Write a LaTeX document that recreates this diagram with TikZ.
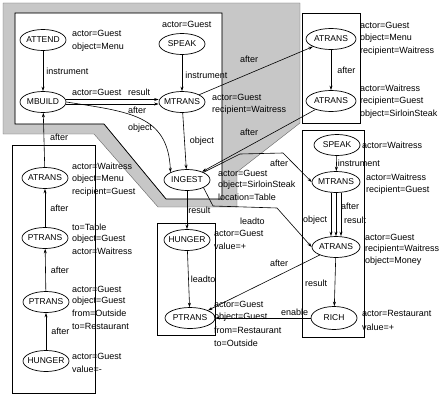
\documentclass[tikz,border=0pt]{standalone}
\usepackage{fontspec}
\setmainfont{Liberation Sans}
\usetikzlibrary{shapes.geometric,arrows.meta}
\begin{document}
\begin{tikzpicture}[x=1pt,y=-1pt,
  ev/.style={ellipse,draw,line width=0.7pt,fill=white,minimum width=46pt,minimum height=21pt,inner sep=0pt,font=\fontsize{8.5}{10}\selectfont},
  lab/.style={anchor=west,inner sep=0pt,font=\fontsize{9}{10}\selectfont},
  arr/.style={-{Stealth[length=4.5pt,width=3pt]},line width=0.6pt},
  box/.style={draw,line width=0.7pt},
  shade/.style={fill=black!22,even odd rule,draw=black!60,line width=0.4pt},
  frame/.style={draw,line width=0.7pt}]
\useasboundingbox (0,0) rectangle (446,396);
% shaded frame
\path[shade] (3,3) -- (300,3) -- (300,123) -- (237,172) -- (237,207) -- (158,207) -- (94,134) -- (3,134) -- cycle
  (15,13) -- (222,13) -- (222,199) -- (166,199) -- (104,124) -- (15,124) -- cycle;
\draw[frame] (15,13) -- (222,13) -- (222,199) -- (166,199) -- (104,124) -- (15,124) -- cycle;
% boxes
\draw[box] (302,13) rectangle (360,123);
\draw[box] (302,130) rectangle (364,337);
\draw[box] (157,223) rectangle (215,335);
\draw[box] (12,145) rectangle (95,393);
% events
\node[ev] (attend) at (43,40) {\makebox[0pt]{ATTEND}};
\node[ev] (mbuild) at (43,102) {\makebox[0pt]{MBUILD}};
\node[ev] (speak1) at (182,44) {\makebox[0pt]{SPEAK}};
\node[ev] (mtrans1) at (182,102) {\makebox[0pt]{MTRANS}};
\node[ev,minimum width=50pt] (atrans1) at (331,39) {\makebox[0pt]{ATRANS}};
\node[ev,minimum width=50pt] (atrans2) at (331,101) {\makebox[0pt]{ATRANS}};
\node[ev] (ingest) at (187,180) {\makebox[0pt]{INGEST}};
\node[ev] (atrans3) at (45,178) {\makebox[0pt]{ATRANS}};
\node[ev] (ptrans1) at (45,238) {\makebox[0pt]{PTRANS}};
\node[ev] (ptrans2) at (46,302) {\makebox[0pt]{PTRANS}};
\node[ev] (hunger1) at (46,361) {\makebox[0pt]{HUNGER}};
\node[ev] (hunger2) at (187,240) {\makebox[0pt]{HUNGER}};
\node[ev,minimum width=50pt] (ptrans3) at (190,318) {\makebox[0pt]{PTRANS}};
\node[ev] (speak2) at (337,145) {\makebox[0pt]{SPEAK}};
\node[ev,minimum width=48pt] (mtrans2) at (336,182) {\makebox[0pt]{MTRANS}};
\node[ev,minimum width=48pt] (atrans4) at (336,247) {\makebox[0pt]{ATRANS}};
\node[ev,minimum height=23pt] (rich) at (334,318) {\makebox[0pt]{RICH}};
% attribute labels
\node[lab] (a1) at (72,33) {actor=Guest};
\node[lab] (a2) at (72,47) {object=Menu};
\node[lab] (a3) at (72,92) {actor=Guest};
\node[lab] (a4) at (162,24) {actor=Guest};
\node[lab] (a5) at (212,97) {actor=Guest};
\node[lab] (a6) at (212,110) {recipient=Waitress};
\node[lab] (a7) at (360,25) {actor=Guest};
\node[lab] (a8) at (360,38) {object=Menu};
\node[lab] (a9) at (360,51) {recipient=Waitress};
\node[lab] (a10) at (360,88) {actor=Waitress};
\node[lab] (a11) at (360,101) {recipient=Guest};
\node[lab] (a12) at (360,114) {object=SirloinSteak};
\node[lab] (a13) at (72,166) {actor=Waitress};
\node[lab] (a14) at (72,179) {object=Menu};
\node[lab] (a15) at (72,192) {recipient=Guest};
\node[lab] (a16) at (72,227) {to=Table};
\node[lab] (a17) at (72,239) {object=Guest};
\node[lab] (a18) at (72,251) {actor=Waitress};
\node[lab] (a19) at (72,289) {actor=Guest};
\node[lab] (a20) at (72,301) {object=Guest};
\node[lab] (a21) at (72,313) {from=Outside};
\node[lab] (a22) at (72,326) {to=Restaurant};
\node[lab] (a23) at (72,356) {actor=Guest};
\node[lab] (a24) at (72,369) {value=-};
\node[lab] (a25) at (218,173) {actor=Guest};
\node[lab] (a26) at (218,185) {object=SirloinSteak};
\node[lab] (a27) at (218,197) {location=Table};
\node[lab] (a28) at (214,233) {actor=Guest};
\node[lab] (a29) at (214,246) {value=+};
\node[lab] (a30) at (214,304) {actor=Guest};
\node[lab] (a31) at (214,317) {object=Guest};
\node[lab] (a32) at (214,330) {from=Restaurant};
\node[lab] (a33) at (214,343) {to=Outside};
\node[lab] (a34) at (362,145) {actor=Waitress};
\node[lab] (a35) at (366,177) {actor=Waitress};
\node[lab] (a36) at (366,190) {recipient=Guest};
\node[lab] (a37) at (365,237) {actor=Guest};
\node[lab] (a38) at (365,249) {recipient=Waitress};
\node[lab] (a39) at (365,261) {object=Money};
\node[lab] (a40) at (362,313) {actor=Restaurant};
\node[lab] (a41) at (362,327) {value=+};
% edges
\draw[arr] (attend) -- (mbuild) node[lab,pos=0.5,xshift=3pt] (e1) {instrument};
\draw[arr] (speak1) -- (mtrans1) node[lab,pos=0.55,xshift=3pt] (e2) {instrument};
\draw[arr] ([yshift=2.5pt]mbuild.east) -- ([yshift=2.5pt]mtrans1.west);
\draw[arr] ([yshift=-2pt]mbuild.east) -- ([yshift=-2pt]mtrans1.west);
\node[lab] (e3) at (128,92) {result};
\node[lab] (e4) at (128,110) {after};
\draw[arr] (mbuild.east) .. controls (130,112) and (168,115) .. (ingest.north west);
\node[lab] (e5) at (128,128) {object};
\draw[arr] (mtrans1) -- (ingest) node[lab,pos=0.5,xshift=5pt] (e6) {object};
\draw[arr] (mtrans1) -- (atrans1);
\node[lab] (e7) at (240,59) {after};
\draw[arr] (atrans1) -- (atrans2) node[lab,pos=0.5,xshift=6pt] (e8) {after};
\draw[arr] (atrans2) -- (ingest);
\node[lab] (e9) at (240,132) {after};
\draw[arr] (atrans3) -- (mbuild);
\node[lab] (e10) at (50,137) {after};
\draw[arr] (ptrans1) -- (atrans3) node[lab,pos=0.5,xshift=5pt] (e11) {after};
\draw[arr] (ptrans2) -- (ptrans1) node[lab,pos=0.5,xshift=5pt] (e12) {after};
\draw[arr] (hunger1) -- (ptrans2) node[lab,pos=0.5,xshift=5pt] (e13) {after};
\draw[arr] (ingest) -- (hunger2) node[lab,pos=0.5,xshift=1pt] (e14) {result};
\draw[arr] (hunger2) -- (ptrans3) node[lab,pos=0.5,xshift=2pt] (e15) {leadto};
\coordinate (c1) at (240,154);
\coordinate (c2) at (283,153);
\draw[arr] (ingest.north east) -- (c1) -- (c2) -- (mtrans2.west);
\node[lab] (e16) at (270,163) {after};
\coordinate (c3) at (213,206);
\coordinate (c4) at (277,208);
\draw[arr] (ingest.south east) -- (c3) -- (c4) -- (atrans4.west);
\node[lab] (e17) at (240,221) {leadto};
\draw[arr] (atrans4) -- (ptrans3.north east);
\node[lab] (e18) at (270,263) {after};
\draw[arr] (rich) -- (ptrans3);
\node[lab] (e19) at (281,312) {enable};
\draw[arr] (speak2) -- (mtrans2) node[lab,pos=0.5,xshift=1pt] (e20) {instrument};
\draw[arr] ([xshift=-5pt]mtrans2.south) -- ([xshift=-5pt]atrans4.north);
\draw[arr] (mtrans2.south) -- (atrans4.north);
\draw[arr] ([xshift=5pt]mtrans2.south) -- ([xshift=5pt]atrans4.north);
\node[lab] (e21) at (341,206) {after};
\node[lab] (e22) at (303,220) {object};
\node[lab] (e23) at (344,220) {result};
\draw[arr] (atrans4) -- (rich);
\node[lab] (e24) at (305,283) {result};
\end{tikzpicture}
\end{document}
